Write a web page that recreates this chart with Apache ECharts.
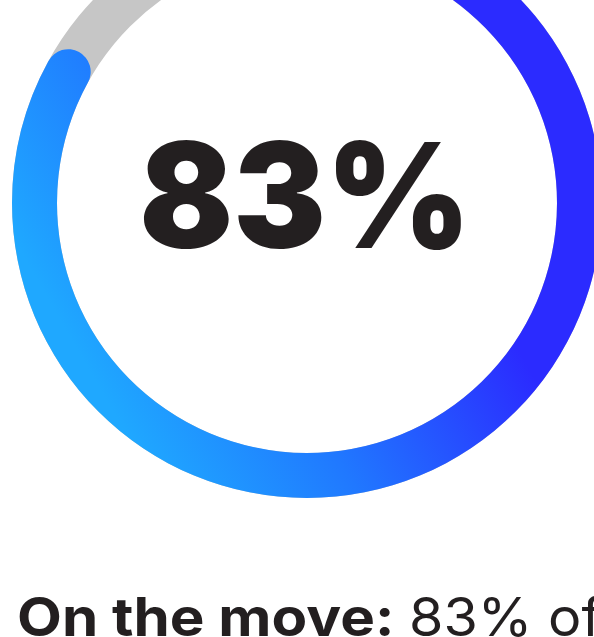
<!DOCTYPE html>
<html>
<head>
<meta charset="utf-8">
<script src="https://cdn.jsdelivr.net/npm/echarts@6/dist/echarts.min.js"></script>
<style>
  html, body { margin: 0; padding: 0; background: #ffffff; }
  #chart { width: 594px; height: 637px; }
</style>
</head>
<body>
<div id="chart"></div>
<script>
const shareValues = [83];
const gaugeRange = [0, 100];
const captionBold = 'On the move:';
const captionRegular = '83% of';

const chart = echarts.init(document.getElementById('chart'), null, { renderer: 'canvas' });

const gradient = new echarts.graphic.LinearGradient(71, 339, 402, 148, [
  { offset: 0, color: '#1fa8ff' },
  { offset: 0.45, color: '#2078ff' },
  { offset: 1, color: '#2b2bff' }
], true);

chart.setOption({
  backgroundColor: '#ffffff',
  animation: false,
  series: [{
    type: 'gauge',
    center: [307, 203],
    radius: 295,
    startAngle: 90,
    endAngle: -270,
    min: gaugeRange[0],
    max: gaugeRange[1],
    pointer: { show: false },
    axisLine: { lineStyle: { width: 45, color: [[1, '#c6c6c6']] } },
    progress: { show: true, width: 45, roundCap: true, itemStyle: { color: gradient } },
    axisTick: { show: false },
    splitLine: { show: false },
    axisLabel: { show: false },
    anchor: { show: false },
    title: { show: false },
    detail: { show: false },
    data: shareValues.map(v => ({ value: v }))
  }],
  graphic: [{
    type: 'text',
    x: 305,
    y: 204,
    scaleX: 0.95,
    style: {
      text: shareValues[0] + '%',
      x: 0,
      y: 0,
      align: 'center',
      verticalAlign: 'middle',
      fontFamily: 'Inter',
      fontWeight: 900,
      fontSize: 146,
      fill: '#231f20'
    }
  }, {
    type: 'text',
    x: 17,
    y: 594,
    scaleX: 1.1,
    style: {
      text: captionBold,
      verticalAlign: 'top',
      fontFamily: 'Inter',
      fontWeight: 700,
      fontSize: 53,
      fill: '#231f20'
    }
  }, {
    type: 'text',
    x: 409,
    y: 594,
    scaleX: 1.05,
    style: {
      text: captionRegular,
      verticalAlign: 'top',
      fontFamily: 'Inter',
      fontWeight: 400,
      fontSize: 53,
      fill: '#231f20'
    }
  }]
});
</script>
</body>
</html>
